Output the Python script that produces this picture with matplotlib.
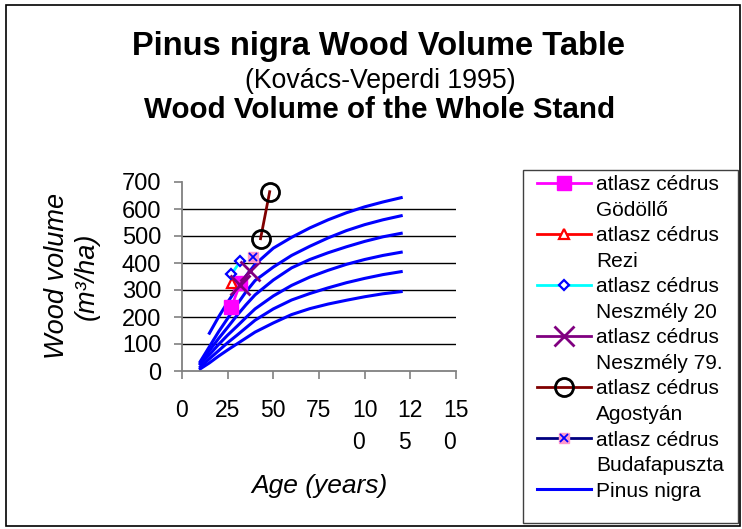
import numpy as np
import matplotlib
matplotlib.use("Agg")
import matplotlib.pyplot as plt
from matplotlib.lines import Line2D
from matplotlib.patches import Rectangle

plt.rcParams['font.family'] = ['Liberation Sans', 'DejaVu Sans']

# Pinus nigra yield table curves (site classes)
ages = [10, 15, 20, 25, 30, 35, 40, 50, 60, 70, 80, 90, 100, 110, 120]
pinus_1 = [np.nan, 140, 200, 255, 305, 352, 395, 455, 495, 530, 560, 586, 608, 626, 642]
pinus_2 = [35, 90, 145, 195, 245, 293, 335, 385, 428, 462, 493, 520, 542, 560, 575]
pinus_3 = [30, 75, 120, 162, 205, 245, 282, 337, 382, 413, 438, 460, 480, 497, 510]
pinus_4 = [25, 60, 98, 133, 165, 198, 230, 278, 317, 348, 373, 395, 413, 428, 440]
pinus_5 = [15, 45, 75, 105, 132, 160, 188, 230, 263, 287, 308, 327, 343, 357, 368]
pinus_6 = [8, 30, 55, 78, 100, 122, 144, 178, 209, 231, 248, 262, 275, 286, 294]

# atlas cedar stands
godollo_age = [27, 32]
godollo_vol = [236, 326]
rezi_age = [27.5]
rezi_vol = [326]
neszmely20_age = [27, 32]
neszmely20_vol = [358, 407]
neszmely79_age = [32, 37]
neszmely79_vol = [320, 370]
agostyan_age = [43, 48]
agostyan_vol = [490, 664]
budafa_age = [39]
budafa_vol = [423]

x_ticks = [0, 25, 50, 75, 100, 125, 150]
x_ticklabels = ['0', '25', '50', '75', '10\n0', '12\n5', '15\n0']
y_ticks = [0, 100, 200, 300, 400, 500, 600, 700]

W, H = 742, 529
fig = plt.figure(figsize=(W / 100, H / 100), dpi=100)
ax = fig.add_axes([182 / W, 1 - 371 / H, 274 / W, 189 / H])

# yield table curves
pn = None
for c in [pinus_1, pinus_2, pinus_3, pinus_4, pinus_5, pinus_6]:
    pn, = ax.plot(ages, c, color='#0000FF', lw=2.2, zorder=2)

h1, = ax.plot(godollo_age, godollo_vol, color='#FF00FF', lw=2, marker='s',
              ms=10.5, mfc='#FF00FF', mec='#FF00FF', zorder=3)
h2, = ax.plot(rezi_age, rezi_vol, color='#FF0000', lw=2, marker='^',
              ms=7, mfc='white', mec='#FF0000', mew=1.6, zorder=3)
h3, = ax.plot(neszmely20_age, neszmely20_vol, color='#00FFFF', lw=2, marker='D',
              ms=5.5, mfc='white', mec='#0000FF', mew=1.6, zorder=3)
h4, = ax.plot(neszmely79_age, neszmely79_vol, color='#800080', lw=2, marker='x',
              ms=14, mew=2, zorder=4)
h5, = ax.plot(agostyan_age, agostyan_vol, color='#800000', lw=2, marker='o',
              ms=13, mfc='none', mec='black', mew=2, zorder=4)
h6a, = ax.plot(budafa_age, budafa_vol, color='#000080', lw=2, marker='s',
               ms=7.5, mfc='#FF99CC', mec='#FF99CC', zorder=4)
h6b, = ax.plot(budafa_age, budafa_vol, color='#000080', lw=0, marker='x',
               ms=6, mew=1.3, mec='#0000FF', zorder=5)

ax.set_xlim(0, 150)
ax.set_ylim(0, 700)
ax.set_xticks(x_ticks)
ax.set_xticklabels(x_ticklabels, fontsize=16.5)
for lab in ax.get_xticklabels():
    lab.set_linespacing(1.5)
    lab.set_multialignment('left')
ax.set_yticks(y_ticks)
ax.set_yticklabels([str(v) for v in y_ticks], fontsize=17)

ax.tick_params(axis='both', direction='out', color='#808080', width=1.2)
ax.tick_params(axis='y', length=6, pad=9)
ax.tick_params(axis='x', length=6, pad=14)
for s in ['top', 'right']:
    ax.spines[s].set_visible(False)
for s in ['left', 'bottom']:
    ax.spines[s].set_color('#808080')
    ax.spines[s].set_linewidth(1.3)

ax.yaxis.grid(True, color='black', lw=1)
ax.set_axisbelow(True)
ax.get_ygridlines()[-1].set_visible(False)
ax.get_ygridlines()[0].set_visible(False)

# titles
fig.text(379 / W, 1 - 55 / H, 'Pinus nigra Wood Volume Table', ha='center',
         va='baseline', fontsize=23.5, fontweight='bold')
fig.text(380 / W, 1 - 88 / H, '(Kovács-Veperdi 1995)', ha='center',
         va='baseline', fontsize=19.2)
fig.text(380 / W, 1 - 118 / H, 'Wood Volume of the Whole Stand', ha='center',
         va='baseline', fontsize=21.3, fontweight='bold')

fig.text(319 / W, 1 - 493 / H, 'Age (years)', ha='center', va='baseline',
         fontsize=19, style='italic')
fig.text(72 / W, 1 - 276 / H, 'Wood volume\n(m³/ha)', ha='center', va='center',
         rotation=90, fontsize=19.5, style='italic', linespacing=1.2,
         multialignment='center')

# legend: each name on two rows, handle on the first row
blank = Line2D([], [], linestyle='none')
handles = [h1, blank, h2, blank, h3, blank, h4, blank, h5, blank,
           (h6a, h6b), blank, pn]
labels = ['atlasz cédrus', 'Gödöllő', 'atlasz cédrus', 'Rezi',
          'atlasz cédrus', 'Neszmély 20', 'atlasz cédrus', 'Neszmély 79.',
          'atlasz cédrus', 'Agostyán', 'atlasz cédrus', 'Budafapuszta',
          'Pinus nigra']
leg = fig.legend(handles, labels, loc='upper left',
                 bbox_to_anchor=(537 / W, 1 - 175 / H),
                 fontsize=15, numpoints=1, handlelength=2.6,
                 handletextpad=0.25, labelspacing=0.315, borderpad=0,
                 borderaxespad=0, frameon=False)

# legend frame and outer chart border
fig.patches.append(Rectangle((523 / W, 1 - 523 / H), 215 / W, 353 / H,
                             transform=fig.transFigure, fill=False,
                             ec='#404040', lw=1.0))
fig.patches.append(Rectangle((6 / W, 3 / H), 734 / W, 521 / H, transform=fig.transFigure,
                             fill=False, ec='black', lw=1.2))

fig.savefig('out.png', dpi=100)
